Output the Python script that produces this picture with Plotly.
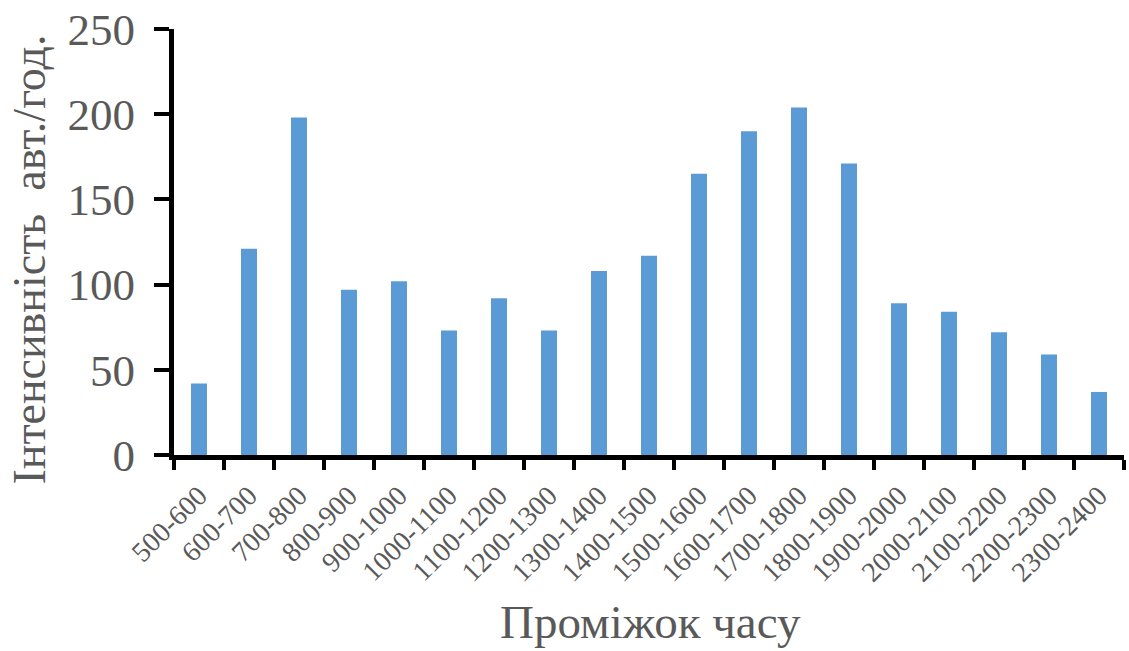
import plotly.graph_objects as go

# Hourly traffic intensity by time interval
intervals = [
    "500-600", "600-700", "700-800", "800-900", "900-1000", "1000-1100",
    "1100-1200", "1200-1300", "1300-1400", "1400-1500", "1500-1600",
    "1600-1700", "1700-1800", "1800-1900", "1900-2000", "2000-2100",
    "2100-2200", "2200-2300", "2300-2400",
]
intensity = [42, 121, 198, 97, 102, 73, 92, 73, 108, 117, 165, 190, 204, 171, 89, 84, 72, 59, 37]
y_ticks = [0, 50, 100, 150, 200, 250]

FONT = "Liberation Serif, Times New Roman, serif"
GREY = "#595959"

fig = go.Figure(
    go.Bar(
        x=intervals,
        y=intensity,
        marker=dict(color="#5B9BD5", line=dict(width=0)),
        width=0.32,
    )
)

fig.update_layout(
    width=1129,
    height=651,
    margin=dict(l=174, r=5, t=29, b=196),
    paper_bgcolor="white",
    plot_bgcolor="white",
    showlegend=False,
    font=dict(family=FONT, color=GREY),
)

fig.update_xaxes(
    type="category",
    tickson="boundaries",
    ticks="outside",
    ticklen=10,
    tickwidth=4,
    tickcolor="black",
    showline=True,
    linecolor="black",
    linewidth=5,
    showgrid=False,
    tickangle=-45,
    tickfont=dict(family=FONT, size=28, color=GREY),
    ticklabelstandoff=8,
    automargin=False,
)

fig.update_yaxes(
    range=[0, 250],
    tickvals=y_ticks,
    ticks="outside",
    ticklen=15,
    tickwidth=4,
    tickcolor="black",
    showline=True,
    linecolor="black",
    linewidth=5,
    showgrid=False,
    zeroline=False,
    tickfont=dict(family=FONT, size=45, color=GREY),
    ticklabelstandoff=10,
    automargin=False,
)

# Axis titles
fig.add_annotation(
    text="Проміжок часу",
    xref="paper", yref="paper",
    x=0.502, y=-0.392,
    showarrow=False,
    font=dict(family=FONT, size=47, color=GREY),
    xanchor="center", yanchor="middle",
)
fig.add_annotation(
    text="Інтенсивність\u00a0\u00a0авт./год.",
    xref="paper", yref="paper",
    x=-0.152, y=0.458,
    textangle=-90,
    showarrow=False,
    font=dict(family=FONT, size=46, color=GREY),
    xanchor="center", yanchor="middle",
)

fig.write_html("out.html")
